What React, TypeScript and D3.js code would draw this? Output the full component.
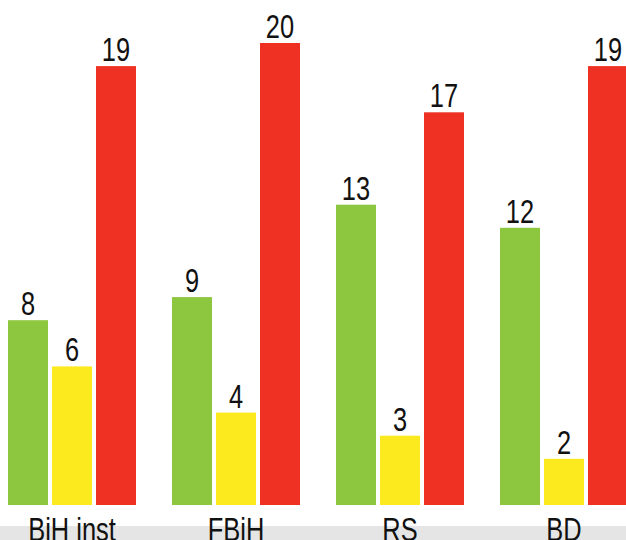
import React from "react";
import * as d3 from "d3";

const categories = ["BiH inst", "FBiH", "RS", "BD"];
const seriesNames = ["green", "yellow", "red"];
const greenValues = [8, 9, 13, 12];
const yellowValues = [6, 4, 3, 2];
const redValues = [19, 20, 17, 19];
const colors = ["#8DC63F", "#FCEA1F", "#EF3124"];

const W = 626;
const H = 540;

export default function App() {
  const series = [greenValues, yellowValues, redValues];
  const x0 = d3
    .scaleBand<string>()
    .domain(categories)
    .range([8, 628])
    .paddingInner(36 / 164)
    .paddingOuter(0);
  const x1 = d3
    .scaleBand<string>()
    .domain(seriesNames)
    .range([0, x0.bandwidth()])
    .paddingInner(4 / 44)
    .paddingOuter(0);
  const y = d3.scaleLinear().domain([0, 20]).range([505, 43]);

  const font = "'Liberation Sans', Arial, sans-serif";
  const sx = 0.77;

  return (
    <svg
      width={W}
      height={H}
      style={{ position: "absolute", left: 0, top: 0, display: "block" }}
    >
      <rect x={0} y={0} width={W} height={H} fill="#ffffff" />
      <rect x={0} y={526} width={W} height={14} fill="#E5E5E6" />
      {categories.map((c, ci) => (
        <g key={c} transform={`translate(${x0(c)},0)`}>
          {seriesNames.map((s, si) => {
            const v = series[si][ci];
            const bx = x1(s)!;
            const bw = x1.bandwidth();
            return (
              <g key={s}>
                <rect
                  x={bx}
                  y={y(v)}
                  width={bw}
                  height={y(0) - y(v)}
                  fill={colors[si]}
                />
                <g transform={`translate(${bx + bw / 2},${y(v) - 5}) scale(${sx},1)`}>
                  <text
                    textAnchor="middle"
                    fontFamily={font}
                    fontSize={33}
                    fill="#111"
                  >
                    {v}
                  </text>
                </g>
              </g>
            );
          })}
          <g transform={`translate(${x0.bandwidth() / 2},541) scale(${sx},1)`}>
            <text textAnchor="middle" fontFamily={font} fontSize={33} fill="#111">
              {c}
            </text>
          </g>
        </g>
      ))}
    </svg>
  );
}
